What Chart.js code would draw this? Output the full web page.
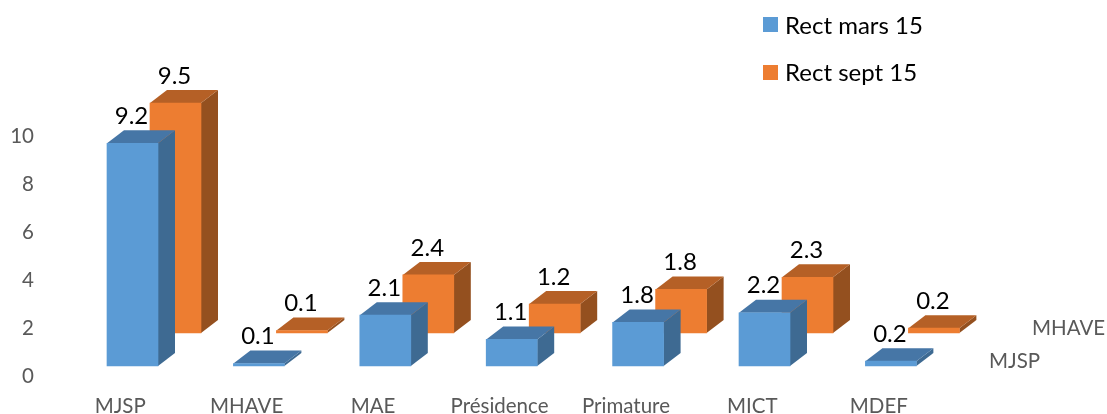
<!DOCTYPE html>
<html><head><meta charset="utf-8">
<style>html,body{margin:0;padding:0;background:#fff}#w{position:relative;width:1107px;height:414px}</style>
<script src="https://cdn.jsdelivr.net/npm/chart.js@4"></script>
</head><body><div id="w"><canvas id="c"></canvas></div>
<script>
const categories = ['MJSP','MHAVE','MAE','Présidence','Primature','MICT','MDEF'];
const rectMars15 = [9.2,0.1,2.1,1.1,1.8,2.2,0.2];
const rectSept15 = [9.5,0.1,2.4,1.2,1.8,2.3,0.2];
const depthLabels = ['MJSP','MHAVE'];
const yTicks = [0,2,4,6,8,10];

const FONT = 'Lato, "Open Sans", sans-serif';
const L=57,R=942,T=40,B=376, STEP=126.4, UNIT=24.2, TICKUNIT=24;
const linX = c => ({type:'linear',display:false,offset:false,min:(L-c)/STEP,max:(R-c)/STEP});
const linY = f => ({type:'linear',display:false,min:(f-B)/UNIT,max:(f-T)/UNIT});
const toXY = a => a.map((v,i)=>({x:i,y:v}));
const DX=17, DY=13;

const faces = {
  id:'faces',
  beforeDatasetDraw(chart,args){
    const ds = chart.data.datasets[args.index], ctx = chart.ctx;
    ctx.save();
    args.meta.data.forEach(b=>{
      const l=b.x-b.width/2, r=b.x+b.width/2, t=b.y, f=b.base;
      ctx.fillStyle=ds.sideColor;
      ctx.beginPath();ctx.moveTo(r,t);ctx.lineTo(r+DX,t-DY);ctx.lineTo(r+DX,f-DY);ctx.lineTo(r,f);ctx.closePath();ctx.fill();
      ctx.fillStyle=ds.topColor;
      ctx.beginPath();ctx.moveTo(l,t);ctx.lineTo(l+DX,t-DY);ctx.lineTo(r+DX,t-DY);ctx.lineTo(r,t);ctx.closePath();ctx.fill();
    });
    ctx.restore();
  },
  afterDraw(chart){
    const ctx=chart.ctx; ctx.save();
    ctx.textBaseline='middle';
    // value labels
    ctx.fillStyle='#000'; ctx.textAlign='center'; ctx.font='24px '+FONT;
    chart.data.datasets.forEach((ds,di)=>{
      chart.getDatasetMeta(di).data.forEach((b,i)=>{
        ctx.fillText(ds.data[i].y.toFixed(1), b.x-1, b.y-27);
      });
    });
    // legend
    ctx.textAlign='left'; ctx.font='24px '+FONT;
    chart.data.datasets.forEach((ds,di)=>{
      ctx.fillStyle=ds.backgroundColor; ctx.fillRect(763,17+48*di,15,15);
      ctx.fillStyle='#000'; ctx.fillText(ds.label,785,26+47*di);
    });
    // depth axis labels
    ctx.fillStyle='#595959'; ctx.font='20.5px '+FONT;
    ctx.fillText(depthLabels[0],989,361);
    ctx.fillText(depthLabels[1],1032,328);
    ctx.restore();
  }
};

new Chart(document.getElementById('c'),{
  type:'bar',
  data:{
    labels:categories,
    datasets:[
      {label:'Rect mars 15',data:toXY(rectMars15),backgroundColor:'#5B9BD5',sideColor:'#3E6A92',topColor:'#4676A6',xAxisID:'xb',yAxisID:'yb',barThickness:51,grouped:false,clip:false},
      {label:'Rect sept 15',data:toXY(rectSept15),backgroundColor:'#ED7D31',sideColor:'#94501F',topColor:'#B56026',xAxisID:'xo',yAxisID:'yo',barThickness:51,grouped:false,clip:false}
    ]
  },
  options:{
    responsive:true,maintainAspectRatio:false,animation:false,
    layout:{padding:{top:T,right:1107-R,left:0,bottom:0}},
    plugins:{legend:{display:false},tooltip:{enabled:false}},
    scales:{
      x:{type:'category',labels:categories,position:'bottom',offset:true,
         grid:{display:false,drawTicks:false},border:{display:false},
         ticks:{color:'#595959',font:{family:FONT,size:20.5},padding:18,maxRotation:0,autoSkip:false},
         afterFit:s=>{s.height=414-B}},
      y:{type:'linear',position:'left',min:0,max:(B-T)/TICKUNIT,
         grid:{display:false,drawTicks:false},border:{display:false},
         afterBuildTicks:s=>{s.ticks=yTicks.map(v=>({value:v}))},
         ticks:{color:'#595959',font:{family:FONT,size:20.5},padding:23},
         afterFit:s=>{s.width=L}},
      xb:linX(132.5), xo:linX(175.5),
      yb:linY(366), yo:linY(333)
    }
  },
  plugins:[faces]
});
</script></body></html>
